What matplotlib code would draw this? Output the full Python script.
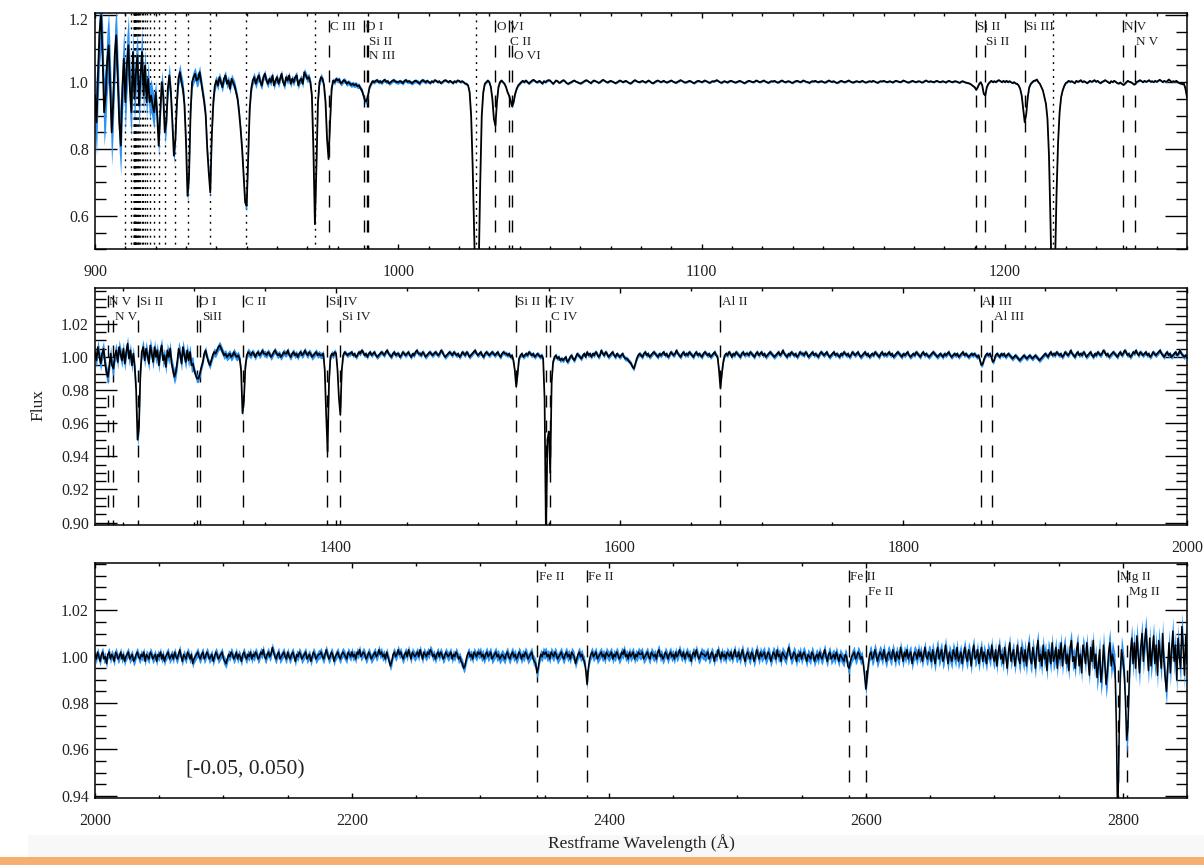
import numpy as np
import matplotlib
matplotlib.use("Agg")
import matplotlib.pyplot as plt
from matplotlib.ticker import MultipleLocator, FixedLocator, FormatStrFormatter
from matplotlib.patches import Rectangle

plt.rcParams['font.family'] = ['Liberation Serif', 'DejaVu Serif']

# ---------------- data ----------------
# flux given as (flux - 1) * 1000, sampled from start with constant step (Angstrom)
top_start, top_step = 900.0, 0.5
top_flux_milli = [
    -40, -120, 30, 150, 200, 80, -90, -40, 60, 110, -10, -150, -60, 80, 140, 10, -120, -190, -20, 70,
    -60, 50, 110, -20, -90, 90, -50, 30, 80, -70, 20, 90, -40, 50, -60, 10, -60, -40, -70, -90,
    -30, -100, -190, -90, 0, -40, -150, -120, -20, 20, -30, -120, -220, -170, -60, 10, 30, 0, -20, -70,
    -180, -340, -280, -90, 0, 15, 25, 5, 10, 30, 0, -30, -60, -100, -200, -270, -330, -160, -60, -10,
    5, -10, 15, 0, -15, 10, 20, -5, 5, -20, 10, 0, -10, -30, -50, -90, -140, -200, -280, -360,
    -370, -230, -80, -20, 5, 15, -5, 10, 20, 0, -10, 15, 25, 5, -5, 10, 0, 20, -10, 5,
    15, -5, 10, 25, 0, -10, 15, 5, 20, -5, 10, 0, 15, 20, -10, 5, 10, -5, 30, 20,
    10, 15, 0, -40, -200, -425, -250, -60, 0, 15, 10, -10, -60, -170, -230, -120, -20, 5, 0, 10,
    5, 8, -4, 0, 6, 3, -5, 0, -4, -8, -5, -9, -6, -12, -10, -18, -25, -40, -55, -58,
    -40, -15, -5, 3, 0, 4, 6, 0, 3, -2, 4, 7, 1, 3, -4, 0, 4, 6, 2, 0,
    0, 3, 1, -3, 4, 6, 1, 3, 0, -3, 1, 4, 3, 0, -4, 3, 6, 3, 0, 4,
    1, -3, 3, 0, 6, 4, 0, 3, -3, 0, 4, 6, 3, 0, 4, 1, -3, 3, 0, 5,
    4, 0, 3, 0, -4, -5, -10, -30, -100, -250, -450, -650, -700, -550, -300, -100, -30, -5, 0, 5,
    0, -15, -50, -110, -130, -60, -15, 0, 5, 0, -5, -15, -30, -40, -55, -72, -60, -35, -20, -10,
    -5, 0, 4, 0, 5, 1, -4, 0, 4, 7, 4, 0, 1, 4, 0, -4, 3, 0, 4, 6,
    5, 0, -5, 0, 5, 3, -2, 0, 4, 6, 2, -3, -5, -2, 0, 3, 5, 2, 0, -2,
    -4, -2, 1, 4, 6, 3, 0, -3, 2, 5, 3, 1, -2, 0, 4, 7, 4, 1, -1, 2,
    4, 2, 0, -3, -1, 2, 5, 3, 0, 2, 4, 1, -2, -4, -1, 3, 6, 3, 1, 0,
    2, 4, 1, -1, 2, 5, 2, -2, -3, 0, 3, 5, 3, 0, 2, 4, 1, -1, 1, 3,
    5, 2, 0, -2, 1, 3, 6, 4, 1, -1, 0, 2, 4, 2, -1, -3, 0, 3, 4, 2,
    0, 2, 5, 3, 1, -2, 0, 3, 2, 4, 6, 3, 0, -2, 1, 3, 1, -1, 2, 4,
    3, 1, -1, 0, 2, 4, 2, 0, -3, -1, 2, 4, 3, 1, 0, 2, 5, 3, 0, 1,
    3, 5, 2, 0, -2, 1, 3, 2, 4, 1, -1, 0, 3, 5, 2, 0, 1, 3, 2, -1,
    -2, 1, 3, 4, 2, 0, 2, 5, 3, 1, 0, -2, 1, 3, 2, 4, 1, 0, 2, 3,
    1, -1, 0, 3, 5, 2, 1, 3, 0, -2, -1, 2, 4, 2, 0, 1, 3, 5, 2, 0,
    -1, 1, 3, 2, 0, 2, 4, 1, -1, 0, 2, 3, 1, 4, 2, 0, -2, 1, 3, 2,
    4, 2, 0, 1, 3, 1, -1, 2, 4, 3, 1, 0, 2, 5, 3, 1, -1, 0, 2, 4,
    2, 0, 1, 3, 2, -1, 0, 3, 5, 2, 1, 3, 1, 0, 2, 4, 2, 0, 1, 3,
    1, -1, 2, 4, 2, 0, 1, 3, 2, 0, -2, 1, 3, 1, -1, -2, -3, -5, -8, -12,
    -15, -23, -15, -5, 0, -10, -35, -40, -15, -5, 0, 4, 0, 3, 0, 4, 6, 3, 0, 4,
    0, 4, 0, 3, 0, -3, 0, -4, -5, -10, -20, -40, -80, -120, -95, -45, -15, -5, 0, 4,
    5, 8, 0, -5, -15, -25, -45, -65, -110, -220, -420, -650, -700, -540, -330, -180, -90, -45, -25, -12,
    -3, 0, 4, 1, 3, 0, -3, 4, 1, 3, 6, 0, 3, 1, -3, 0, 4, 1, 3, 6,
    1, 4, 0, -3, 1, 3, 6, 3, 0, -3, 3, 0, 4, 1, -3, -4, -1, -5, -8, -5,
    0, 4, 1, 0, -3, -7, -5, 1, 3, 6, 3, 0, 4, 1, 3, 6, 1, 3, 0, 4,
    1, 4, 7, 4, 0, 4, 1, 3, 8, 4, 0, 3, 1, 4, 0, -3, -4, -6, -5, -20, -45,
]
top_sig_edges = [900, 906, 912, 916, 920, 925, 932, 940, 955, 975, 990, 1010, 1050, 1150]
top_sig = [0.10, 0.09, 0.07, 0.05, 0.035, 0.025, 0.02, 0.015, 0.012, 0.008, 0.006, 0.004, 0.003, 0.0025]

mid_start, mid_step = 1230.0, 1.0
mid_flux_milli = [
    3, -2, 6, 1, -4, 2, 5, -3, -9, -12, -6, 2, -5, -7, 1, 4, -3, 6, 2, -2,
    5, -4, 3, 8, -1, 4, -5, 2, -6, -20, -50, -42, -10, 3, 6, -2, 5, 1, -4, 7,
    2, -3, 6, 0, 4, -5, 3, 7, -2, 1, -6, 4, 0, 5, -4, -8, -12, -9, -3, 5,
    2, -4, 6, 1, -3, 4, -2, 3, -5, -4, -8, -11, -13, -13, -10, -6, -3, 2, 4, 0,
    -3, -5, -2, 1, 3, 2, 4, 6, 7, 5, 3, 1, 2, 0, 1, 2, 0, 1, 3, 1,
    0, 1, -1, -8, -34, -26, -6, 1, 3, 2, 1, 3, 2, 0, 2, 3, 1, 2, 4, 2,
    2, 1, 3, 2, 0, 1, 3, 4, 2, 1, 2, 0, 1, 3, 2, 2, 4, 1, 0, 2,
    3, 1, 2, 0, 2, 3, 1, 2, 4, 2, 1, 3, 2, 0, 1, 2, 3, 1, 2, 1,
    1, 2, -8, -35, -57, -15, 0, 2, 1, 3, 2, -8, -25, -35, -8, 1, 3, 2, 1, 2,
    2, 3, 1, 2, 0, 1, 3, 2, 4, 3, 1, 2, 0, 2, 3, 1, 2, 3, 1, 0,
    1, 2, 3, 2, 1, 3, 4, 2, 1, 0, 2, 3, 1, 2, 2, 0, 1, 3, 2, 1,
    2, 3, 1, 0, 2, 1, 3, 4, 2, 2, 1, 3, 2, 0, 1, 2, 3, 2, 1, 2,
    3, 2, 1, 2, 4, 3, 1, 0, 1, 2, 3, 2, 1, 3, 2, 1, 2, 0, 1, 3,
    2, 1, 3, 2, 0, 1, 2, 3, 4, 2, 1, 2, 3, 1, 0, 2, 3, 2, 1, 2,
    3, 2, 1, 2, 3, 1, 0, 2, 3, 2, 2, 1, 2, 0, 1, -2, -8, -18, -10, -1,
    1, 2, 0, 1, 2, 1, 3, 2, 1, 2, 0, 1, 2, 1, 0, 1, -1, -25, -110, -50,
    -45, -70, -15, -3, 0, 1, -1, 0, -2, -1, -2, -1, 0, -3, -2, 0, 1, -1, -2, 0,
    2, 1, 0, -1, 1, 2, 0, 3, 1, 2, 0, 2, 1, 3, 2, 0, 1, 4, 2, 1,
    3, 2, 0, 1, 2, 3, 1, 0, 2, 1, 0, 1, 2, 0, -1, -1, -2, -3, -4, -6,
    -7, -4, -1, 1, 2, 1, 0, 2, 3, 1, 2, 0, 1, 2, 3, 2, 1, 0, 2, 1,
    2, 3, 1, 2, 0, 1, 3, 2, 1, 2, 4, 2, 1, 0, 2, 3, 1, 2, 1, 3,
    2, 1, 0, 2, 3, 1, 2, 1, 0, 2, 3, 2, 1, 2, 0, 1, 2, 3, 1, 0,
    -8, -19, -10, -3, 1, 2, 1, 3, 2, 0, 2, 1, 3, 2, 1, 0, 2, 3, 1, 2,
    2, 1, 3, 2, 1, 0, 2, 3, 1, 2, 3, 1, 2, 0, 1, 2, 3, 2, 1, 0,
    1, 2, 3, 1, 2, 4, 2, 1, 0, 2, 1, 3, 2, 1, 2, 0, 1, 3, 2, 2,
    1, 3, 2, 0, 1, 2, 3, 1, 2, 1, 0, 2, 3, 2, 1, 2, 3, 1, 0, 1,
    2, 3, 1, 2, 1, 0, 2, 1, 3, 2, 1, 2, 0, 1, 3, 2, 1, 2, 3, 1,
    0, 1, 2, 3, 1, 2, 0, 1, 2, 1, 3, 2, 1, 0, 2, 3, 1, 2, 1, 2,
    3, 1, 2, 0, 1, 2, 3, 2, 1, 0, 2, 1, 2, 3, 1, 0, 1, 2, 1, 3,
    2, 1, 0, 2, 3, 1, 2, 1, 0, 1, 2, 3, 2, 1, 0, 1, 2, 1, 0, 2,
    1, 2, 3, 1, 0, 1, 2, 1, 2, 0, 1, 2, 3, 1, 2, 1, 0, 1, 2, 1,
    2, 1, 0, 1, -2, -5, -4, -1, 1, 2, 1, 2, 0, -3, -2, 1, 2, 1, 0, 2,
    1, 2, 0, 1, 2, 1, 0, -1, 0, 1, 0, -1, -2, -1, 0, 1, 0, -1, 0, 1,
    0, -1, 0, 1, 0, -1, -2, -1, 0, 1, 2, 1, 0, 2, 3, 1, 2, 1, 3, 2,
    1, 2, 0, 1, 3, 2, 1, 2, 4, 2, 1, 0, 2, 3, 1, 2, 1, 3, 2, 0,
    1, 2, 3, 1, 0, 2, 1, 3, 2, 1, 2, 4, 3, 1, 2, 0, 1, 2, 3, 2,
    1, 0, 2, 3, 1, 2, 4, 3, 1, 2, 0, 1, 3, 2, 4, 2, 1, 3, 2, 1,
    2, 3, 1, 2, 0, 1, 3, 2, 1, 2, 3, 4, 2, 1, 0, 2, 3, 1, 2, 0,
    1, 2, 3, 1, 2, 4, 2, 1, 0, 1, 0,
]
mid_sig_edges = [1230, 1300, 1340, 1400]
mid_sig = [0.0045, 0.0025, 0.002, 0.0015]

bot_start, bot_step = 2000.0, 1.0
bot_flux_milli = [
    1, -1, 2, 0, -2, 1, 2, -1, 0, -3, 1, 2, -1, 1, 0, -2, 2, 1, -1, 0, 2, -1, 1, -2, 0,
    1, 2, -1, 0, 1, -2, -1, 1, 2, 0, -1, 1, 0, 2, -2, 1, 0, -1, 2, 1, -1, 0, 1, -2, 1,
    0, 2, -1, 1, -2, 0, 1, 2, -1, 0, 1, -1, 2, 0, -1, 1, 3, 0, -2, 1, 0, -1, 2, 1, -1,
    1, -3, -1, 0, 1, 2, 0, -1, 1, 2, -1, 0, 2, 1, -1, 0, 1, -2, 0, 2, 1, -1, 0, 1, 2,
    -1, -2, -3, -1, 1, 0, 2, 1, -1, 0, 2, -1, 1, 0, -2, 1, 2, 0, -1, 1, 0, 2, -1, 1, 0,
    2, 1, -1, 0, 2, 1, 3, 0, -1, 1, 2, 0, 1, 4, 2, 0, -1, 1, 2, -1, 0, 1, 2, 0, -1,
    2, 0, -1, 1, 2, 0, -2, 1, 0, 2, 1, -1, 0, 1, 2, -1, 0, 1, -2, 0, 2, 1, -1, 0, 1,
    1, 2, 0, -1, 1, 3, 1, -1, 0, 2, 1, -2, 0, 1, 2, 0, -1, 1, 2, 1, 0, -1, 2, 1, 0,
    2, 0, 1, -1, 2, 1, 3, 0, 1, 2, 1, -1, 0, 2, 1, -1, 0, 1, 2, 0, 1, 3, 1, 2, 0,
    1, -1, 2, 0, -2, -4, -2, 1, 2, 0, 1, 3, 1, 2, 0, -1, 1, 2, 0, 3, 1, -1, 2, 1, 0,
    1, 2, 0, 3, 1, -1, 2, 1, 0, 2, 1, 3, 2, 0, 1, -1, 1, 2, 0, 2, 1, -1, 0, 2, 1,
    0, 1, 2, -1, 1, 0, 2, 1, -1, 0, -2, -3, -5, -4, -1, 1, 2, 0, 1, -1, 2, 1, 0, 2, 1,
    2, 0, 1, -1, 1, 2, 0, 1, 2, -1, 0, 1, 2, 0, 1, -1, 0, 1, 0, -1, 1, 2, 0, -1, 1,
    2, 0, 1, -1, 0, 2, 1, -1, 1, 0, 2, 1, -1, 0, 1, 2, -1, -2, -3, -7, -5, -1, 1, 0, 2,
    1, 2, 0, 1, -1, 2, 1, 0, 2, 1, -1, 0, 1, 2, 0, -1, 1, 2, 0, 1, -1, 2, 1, 0, -3,
    -1, 1, 2, 0, 1, -1, -2, -6, -12, -5, -1, 1, 2, 0, 1, 2, -1, 0, 1, 2, 0, 1, -1, 2, 1,
    0, 1, 2, -1, 1, 0, 2, 1, -1, 0, 2, 1, 3, 0, 1, -1, 2, 0, 1, 2, -1, 1, 0, 2, 1,
    1, 2, -1, 0, 1, 2, 0, -1, 2, 1, 0, 1, -1, 2, 3, 0, 1, -1, 0, 2, 1, -1, 1, 2, 0,
    1, -1, 2, 0, 1, 3, 1, 0, 2, -1, 1, 2, 0, 1, -2, 1, 2, 0, 3, 1, -1, 0, 2, 1, 1,
    0, 1, 2, -1, 0, 2, 1, -2, 1, 0, 3, 1, -1, 2, 0, 1, -1, 2, 1, 0, 2, -1, 1, 3, 0,
    0, 2, -1, 1, 3, 0, -2, 1, 2, 0, -1, 2, 1, -2, 0, 3, 1, -1, 2, 0, 1, 2, -1, 0, 2,
    1, -2, 0, 2, 1, -1, 3, 0, 1, -2, 2, 1, 0, -1, 2, 4, 1, -1, 0, 2, 1, -2, 1, 0, 2,
    -1, 1, 2, 0, -2, 1, 0, -1, 2, 1, -2, 0, 1, -1, 2, 0, -1, 1, 3, 0, -2, 1, 2, -1, 0,
    1, -1, 2, 0, -2, 1, 0, -1, -2, 1, 0, -4, -5, -2, 0, 1, 2, -1, 0, 2, 1, -1, 0, -3, -8,
    -14, -9, -3, 1, 2, -1, 0, 3, 1, -2, 0, 2, 1, -1, 3, 0, -2, 1, 2, 0, -1, 3, 1, -2, 2,
    0, -1, 4, 1, -2, 2, 0, 3, -1, 1, 2, -3, 0, 2, 1, -1, 3, 0, 2, -2, 1, 4, 0, -1, 2,
    1, -2, 3, 0, -3, 2, 4, -1, 1, 3, -2, 0, 5, 1, -3, 2, 0, -2, 3, 1, -1, 4, -2, 0, 2,
    -3, 1, 4, 0, -2, 3, 1, -4, 2, 5, -1, 0, 3, -3, 1, 4, -2, 2, 0, -3, 3, 1, -1, 5, 0,
    -2, 3, -4, 2, 5, -1, 1, -3, 4, 0, -5, 2, 6, -2, 1, 3, -4, 0, 5, -1, -3, 4, 1, -2, 3,
    -4, 2, 6, -1, -3, 4, 0, -5, 3, 7, -2, 1, -4, 5, -1, 2, -6, 3, 1, -3, 6, -2, 0, 4, -5,
    3, -1, 6, -4, 2, 5, -3, 1, -6, 4, 7, -2, 0, -5, 3, 6, -4, 1, -7, 5, 2, -3, 6, -1, -8,
    4, -2, 7, -5, 1, -9, -4, 3, -11, -6, 5, -3, -12, -7, 2, 6, -4, 1, -2, -5, -30, -72, -40, -8, 3,
    -1, -6, -18, -36, -30, -10, 2, 8, -3, 6, -5, 9, 1, -7, 4, 10, -2, 6, 12, 3, -6, 8, -4, 2, 9,
    -3, 5, -8, 7, 1, -5, 10, -2, -9, -15, -4, 6, -7, 3, 11, -2, 5, -10, 8, 0, -5, 13, 4, -8, 9,
    -3,
]
bot_sig_edges = [2000, 2300, 2500, 2600, 2650, 2720, 2780]
bot_sig = [0.0021, 0.0023, 0.0026, 0.003, 0.0036, 0.0044, 0.006]

# Lyman series (dotted)
lyman_lines = [1215.67, 1025.72, 972.54, 949.74, 937.80, 930.75, 926.23, 923.15, 920.96,
               919.35, 918.13, 917.18, 916.43, 915.82, 915.33, 914.92, 914.58, 914.29,
               914.04, 913.83, 913.64, 913.48, 913.34, 913.21, 913.10, 913.00, 912.92,
               912.84, 912.77, 912.70, 911.75, 910.0]

# metal lines (wavelength, label, row)
top_lines = [(977.02, 'C III', 1), (988.77, 'O I', 1), (989.87, 'Si II', 2), (989.80, 'N III', 3),
             (1031.93, 'O VI', 1), (1036.34, 'C II', 2), (1037.62, 'O VI', 3),
             (1190.42, 'Si II', 1), (1193.29, 'Si II', 2), (1206.50, 'Si III', 1),
             (1238.82, 'N V', 1), (1242.80, 'N V', 2)]
mid_lines = [(1238.82, 'N V', 1), (1242.80, 'N V', 2), (1260.42, 'Si II', 1),
             (1302.17, 'O I', 1), (1304.37, 'SiII', 2), (1334.53, 'C II', 1),
             (1393.76, 'Si IV', 1), (1402.77, 'Si IV', 2), (1526.71, 'Si II', 1),
             (1548.20, 'C IV', 1), (1550.78, 'C IV', 2), (1670.79, 'Al II', 1),
             (1854.72, 'Al III', 1), (1862.79, 'Al III', 2)]
bot_lines = [(2344.21, 'Fe II', 1), (2382.77, 'Fe II', 1), (2586.65, 'Fe II', 1),
             (2600.17, 'Fe II', 2), (2796.35, 'Mg II', 1), (2803.53, 'Mg II', 2)]

# ---------------- figure ----------------
W, H = 1204, 865
fig = plt.figure(figsize=(W / 100, H / 100), dpi=100)
fig.add_artist(Rectangle((28 / W, 8 / H), 1 - 28 / W, 22 / H, transform=fig.transFigure,
                         facecolor='#F8F8F8', edgecolor='none', zorder=0))
fig.add_artist(Rectangle((0, 0), 1, 8 / H, transform=fig.transFigure,
                         facecolor='#F5AF6E', edgecolor='none', zorder=0))

PX = 0.72  # points per pixel
TXT = '#222222'
BLUE = '#2A93F5'


def make_axes(ytop, ybot):
    return fig.add_axes([95 / W, 1 - ybot / H, 1092 / W, (ybot - ytop) / H])


def panel(ax, start, step, milli, sedges, svals, xlim, ylim, xmaj, xmin, ymajors, ymin, yfmt,
          lines, dotted=(), lw=1.25):
    flux = 1.0 + np.asarray(milli, float) / 1000.0
    wave = start + step * np.arange(flux.size)
    idx = np.searchsorted(sedges, wave, side='right') - 1
    sig = np.asarray(svals)[idx]
    xt = ax.get_xaxis_transform()
    for w in dotted:
        ax.plot([w, w], [1, 0], transform=xt, color='k', lw=1.0,
                ls=(0, (1.4, 3.6)), zorder=1)
    for w, txt, row in lines:
        ax.plot([w, w], [1, 0], transform=xt, color='k', lw=1.0,
                ls=(18 * PX, (12 * PX, 13 * PX)), zorder=1)
        ax.annotate(txt, xy=(w, 1), xycoords=xt,
                    xytext=(1.5 * PX, -(14 + 14.5 * (row - 1)) * PX), textcoords='offset points',
                    ha='left', va='center', fontsize=9.5, color=TXT, zorder=5)
    ax.fill_between(wave, flux - sig, flux + sig, color=BLUE, lw=0, zorder=2)
    ax.plot(wave, flux, color='k', lw=lw, zorder=3)
    ax.set_xlim(*xlim)
    ax.set_ylim(*ylim)
    ax.xaxis.set_major_locator(MultipleLocator(xmaj))
    ax.xaxis.set_minor_locator(MultipleLocator(xmin))
    ax.yaxis.set_major_locator(FixedLocator(ymajors))
    ax.yaxis.set_minor_locator(MultipleLocator(ymin))
    ax.yaxis.set_major_formatter(FormatStrFormatter(yfmt))
    ax.tick_params(which='both', direction='in', top=True, right=True, width=1.0,
                   labelsize=11.5, labelcolor=TXT)
    ax.tick_params(axis='y', which='major', length=22 * PX, pad=6 * PX)
    ax.tick_params(axis='y', which='minor', length=11 * PX)
    ax.tick_params(axis='x', which='major', length=5 * PX, pad=15 * PX)
    ax.tick_params(axis='x', which='minor', length=3 * PX)
    for s in ax.spines.values():
        s.set_linewidth(1.1)


ax1 = make_axes(13.3, 249.3)
panel(ax1, top_start, top_step, top_flux_milli, top_sig_edges, top_sig,
      (900, 1260), (0.5, 1.206), 100, 10, [0.6, 0.8, 1.0, 1.2], 0.05, '%.1f',
      top_lines, lyman_lines, lw=1.3)
ax1.yaxis.set_major_formatter(plt.FuncFormatter(lambda v, p: '' if v > 1.1 else '%.1f' % v))
ax1.annotate('1.2', xy=(0, 1.2), xycoords=ax1.get_yaxis_transform(),
             xytext=(-6 * PX, -6 * PX), textcoords='offset points',
             ha='right', va='center', fontsize=11.5, color=TXT)

ax2 = make_axes(288.3, 525.0)
panel(ax2, mid_start, mid_step, mid_flux_milli, mid_sig_edges, mid_sig,
      (1230, 2000), (0.8985, 1.0415), 200, 50,
      [0.90, 0.92, 0.94, 0.96, 0.98, 1.00, 1.02], 0.005, '%.2f', mid_lines)

ax3 = make_axes(563.3, 798.3)
panel(ax3, bot_start, bot_step, bot_flux_milli, bot_sig_edges, bot_sig,
      (2000, 2850), (0.9389, 1.0403), 200, 50,
      [0.94, 0.96, 0.98, 1.00, 1.02], 0.005, '%.2f', bot_lines, lw=1.1)

fig.text(38 / W, 1 - 405 / H, 'Flux', rotation=90, ha='center', va='center',
         fontsize=12.5, color=TXT)
fig.text(641 / W, 1 - 843 / H, 'Restframe Wavelength (Å)', ha='center', va='center',
         fontsize=12.5, color=TXT)
fig.text(186 / W, 1 - 770 / H, '[-0.05, 0.050)', ha='left', va='center',
         fontsize=15.5, color=TXT)

fig.savefig('out.png', dpi=100, facecolor='white')
